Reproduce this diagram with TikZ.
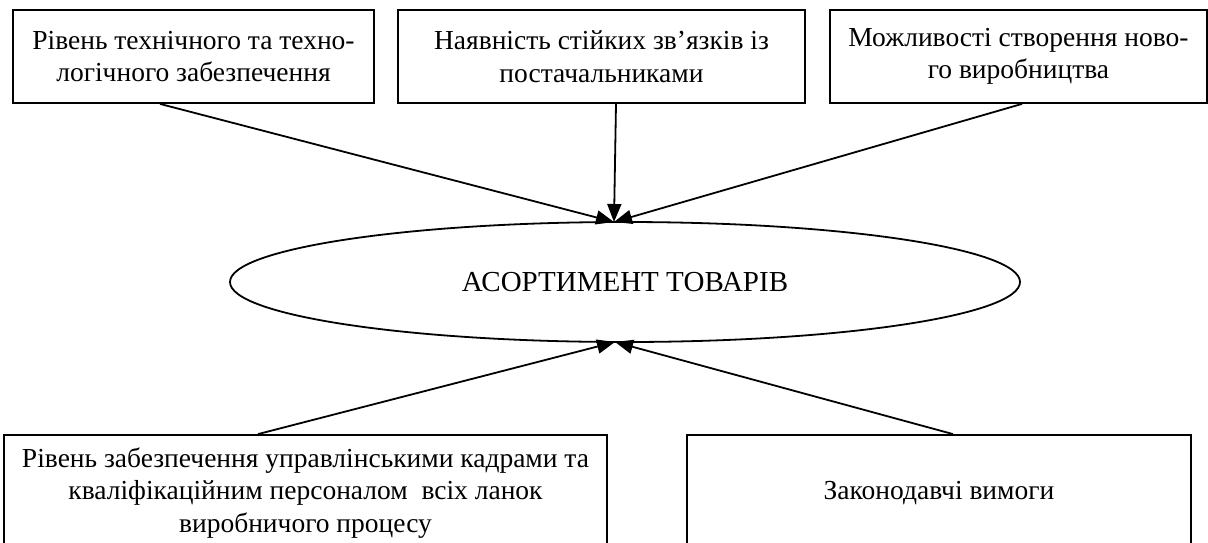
\documentclass[tikz,border=0pt]{standalone}
\usepackage{fontspec}
\setmainfont{Liberation Serif}
\usetikzlibrary{shapes}
\usetikzlibrary{arrows.meta}

\tikzset{
    factor/.style = {draw, rectangle, align=center, inner sep=0pt,
        minimum height=93pt, font=\fontsize{27.5}{32.5}\selectfont},
    goal/.style = {draw, ellipse, inner sep=0pt, minimum width=790pt,
        minimum height=120pt, font=\fontsize{29}{34}\selectfont},
    link/.style = {-{Triangle[length=18pt, width=14pt]}}
}

\begin{document}
\begin{tikzpicture}[x=1pt, y=-1pt, line width=1.8pt]

    \useasboundingbox (0,0) rectangle (1208,542);

    % upper row
    \node (B1) at (193.5,56.5) [factor, minimum width=361pt] {Рівень технічного та техно-\\логічного забезпечення};
    \node (B2) at (601.5,56.5) [factor, minimum width=407pt] {Наявність стійких зв’язків із\\постачальниками};
    \node (B3) at (1018.5,56.5) [factor, minimum width=377pt] {Можливості створення ново-\\го виробництва};

    % centre
    \node (A) at (625,282) [goal] {АСОРТИМЕНТ ТОВАРІВ};
    \coordinate (At) at (614,222);
    \coordinate (Ab) at (615,342);

    % lower row
    \node (L1) at (305.5,493) [factor, minimum width=603pt, minimum height=116pt] {Рівень забезпечення управлінськими кадрами та\\кваліфікаційним персоналом \ всіх ланок\\виробничого процесу};
    \node (L2) at (939,493) [factor, minimum width=504pt, minimum height=116pt] {Законодавчі вимоги};

    \draw[link] ([xshift=-33.5pt]B1.south) -- (At);
    \draw[link] ([xshift=14.5pt]B2.south) -- (At);
    \draw[link] ([xshift=3.5pt]B3.south) -- (At);

    \draw[link] ([xshift=-47.5pt]L1.north) -- (Ab);
    \draw[link] ([xshift=14pt]L2.north) -- (Ab);

\end{tikzpicture}
\end{document}
